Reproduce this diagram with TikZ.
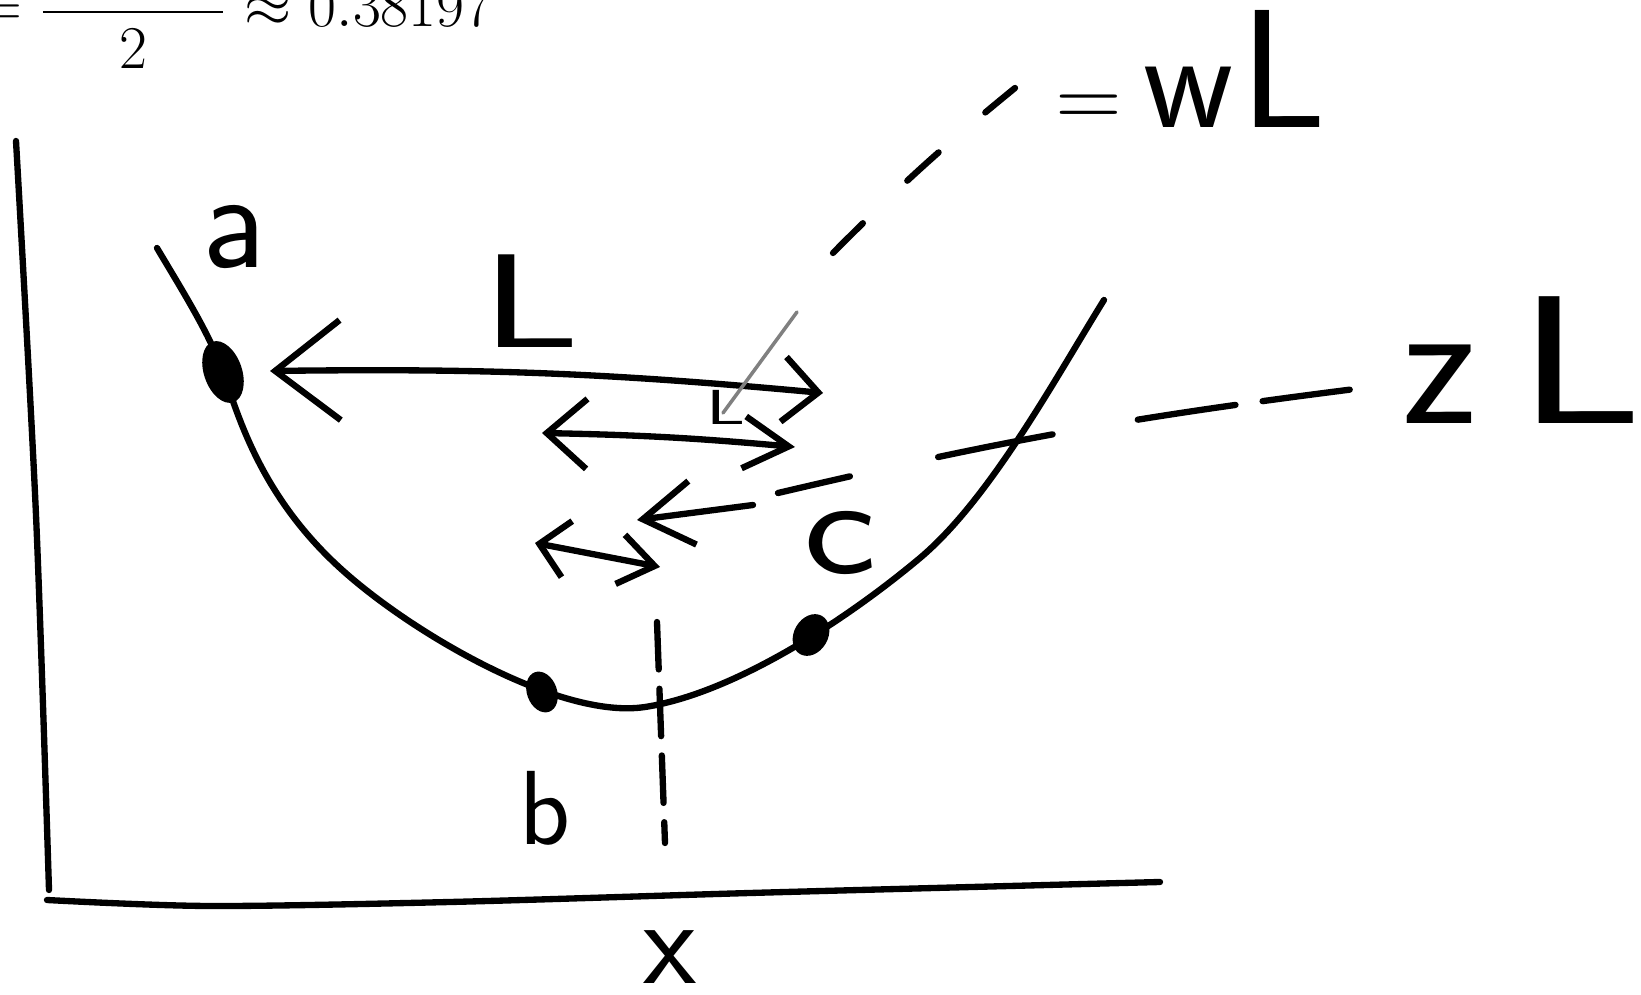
\documentclass[tikz,border=0pt]{standalone}
\usepackage{amsmath,amssymb}
\usetikzlibrary{arrows.meta,positioning,calc}

\begin{document}
\begin{tikzpicture}[
    sketch/.style={line width=1.8pt,line cap=round,line join=round},
    hand/.style={inner sep=0pt},
  ]
  \useasboundingbox[fill=white] (0,0) rectangle (16.41,9.95);
  % ratio, cut off at the top
  \node[inner sep=0pt,anchor=base east,font=\fontsize{16}{19}\selectfont] (ratio) at (4.93,9.68)
    {$=\dfrac{\hphantom{3-\sqrt{5}}}{2}\approx 0.38197$};
  % axes
  \draw[sketch] plot[smooth] coordinates {(0.16,8.54) (0.36,4.8) (0.49,1.05)};
  \draw[sketch] plot[smooth] coordinates {(0.47,0.95) (2.09,0.89) (4.50,0.93) (7.50,1.02) (10.47,1.10) (11.60,1.13)};
  \node[hand,font=\sffamily\fontsize{35}{40}\selectfont] (xlab) at (6.70,0.38) {x};
  % bracket points a, b, c
  \coordinate (a) at (2.23,6.23);
  \coordinate (b) at (5.42,3.03);
  \coordinate (c) at (8.11,3.60);
  % the function
  \draw[sketch] (1.57,7.47) .. controls (1.85,7.0) and (2.1,6.6) .. (a)
    .. controls (2.38,5.8) and (2.6,5.0) .. (3.40,4.27)
    .. controls (4.1,3.63) and (5.6,2.75) .. (6.45,2.88)
    .. controls (7.3,3.01) and (8.4,3.7) .. (9.20,4.37)
    .. controls (9.9,4.96) and (10.55,6.16) .. (11.04,6.95);
  \fill[rotate around={19:(a)}] (a) ellipse (0.19 and 0.32);
  \fill[rotate around={20:(b)}] (b) ellipse (0.15 and 0.21);
  \fill[rotate around={-30:(c)}] (c) ellipse (0.17 and 0.22);
  \node[hand,font=\sffamily\fontsize{40}{46}\selectfont] (alab) at (2.34,7.58) {a};
  \node[hand,font=\sffamily\fontsize{30}{36}\selectfont] (blab) at (5.45,1.87) {b};
  \node[hand,font=\sffamily\fontsize{40}{46}\selectfont] (clab) at (8.40,4.52) {\scalebox{1.25}[1]{c}};
  % interval widths
  \coordinate (L1) at (2.70,6.24);
  \coordinate (L2) at (8.23,6.02);
  \draw[sketch,{Straight Barb[length=6.5mm,width=10mm]}-{Straight Barb[length=3.5mm,width=6.5mm]}]
    (L1) to[bend left=3] (L2);
  \node[hand,font=\sffamily\fontsize{38}{44}\selectfont] (Llab) at (5.31,6.94) {\scalebox{1.45}[1]{L}};
  \coordinate (M1) at (5.42,5.62);
  \coordinate (M2) at (7.95,5.48);
  \draw[sketch,{Straight Barb[length=4mm,width=7mm]}-{Straight Barb[length=4.5mm,width=5.2mm]}]
    (M1) to[bend left=2] (M2);
  \coordinate (S1) at (7.53,4.90);
  \coordinate (S2) at (6.37,4.75);
  \draw[sketch,-{Straight Barb[length=5mm,width=6.4mm]}] (S1) -- (S2);
  \coordinate (T1) at (5.35,4.52);
  \coordinate (T2) at (6.60,4.28);
  \draw[sketch,{Straight Barb[length=2.8mm,width=5.7mm]}-{Straight Barb[length=3.5mm,width=5mm]}]
    (T1) -- (T2);
  % minimum
  \coordinate (vtop) at (6.57,3.73);
  \coordinate (vbot) at (6.65,1.52);
  \draw[sketch,dash pattern=on 13.5pt off 5.5pt] (vtop) -- (vbot);
  % new points wL and zL
  \node[hand,font=\sffamily\fontsize{14}{16}\selectfont] (wfootL) at (7.26,5.88) {\scalebox{1.5}[1]{L}};
  \coordinate (wfoot) at (7.23,5.82);
  \coordinate (wmid) at (7.97,6.83);
  \draw[gray,line width=1pt,line cap=round] (wfoot) -- (wmid);
  \coordinate (wd1) at (8.33,7.42);
  \coordinate (wd2) at (10.15,9.07);
  \draw[sketch,dash pattern=on 12pt off 17.5pt] (wd1) to[bend left=3] (wd2);
  \node[hand,anchor=base west,font=\sffamily\fontsize{40}{48}\selectfont] (wl) at (10.55,8.67)
    {{\fontsize{26}{30}\selectfont=}\kern0.15em w\kern0.05em{\fontsize{48}{52}\selectfont L}};
  \coordinate (zd1) at (7.78,5.02);
  \coordinate (zd2) at (13.55,6.06);
  \draw[sketch,dash pattern=on 21pt off 25.7pt on 33.2pt off 24.6pt on 28.1pt off 7.8pt on 25pt off 20pt]
    (zd1) to[bend left=3] (zd2);
  \node[hand,anchor=base west,font=\sffamily\fontsize{52}{58}\selectfont] (zl) at (14.02,5.71)
    {z\kern0.22em\scalebox{1.35}[1]{L}};
\end{tikzpicture}
\end{document}
